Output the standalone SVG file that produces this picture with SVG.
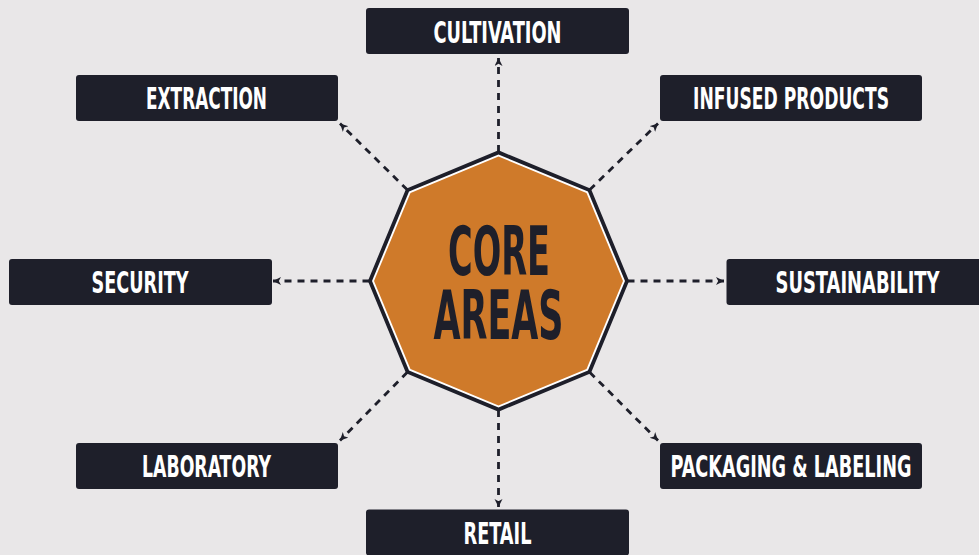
<svg xmlns="http://www.w3.org/2000/svg" width="979" height="555" viewBox="0 0 979 555">
<style>
.bg{fill:#e9e7e8}
.box{fill:#1e1f2a}
.lbl{fill:#ffffff;font-family:"Liberation Sans Narrow","DejaVu Sans Condensed","Liberation Sans",sans-serif;font-stretch:condensed;font-weight:bold;font-size:30px;text-anchor:middle}
.core{fill:#1e1f2a;font-family:"Liberation Sans Narrow","DejaVu Sans Condensed","Liberation Sans",sans-serif;font-stretch:condensed;font-weight:bold;font-size:68px;text-anchor:middle}
.conn{stroke:#1e1f2a;stroke-width:2.8;stroke-dasharray:7 6;fill:none;marker-end:url(#arr)}
</style>
<defs>
<marker id="arr" markerUnits="userSpaceOnUse" markerWidth="9" markerHeight="9" refX="8" refY="4" orient="auto">
<path d="M0,0 L8,4 L0,8 L2.2,4 Z" fill="#1e1f2a"/>
</marker>
</defs>
<rect class="bg" x="0" y="0" width="979" height="555"/>
<g id="connectors">
<line class="conn" x1="498.5" y1="152" x2="498.5" y2="58"/>
<line class="conn" x1="589.7" y1="189.8" x2="658" y2="123.5"/>
<line class="conn" x1="627.5" y1="281" x2="724" y2="281"/>
<line class="conn" x1="589.7" y1="372.2" x2="658" y2="440.5"/>
<line class="conn" x1="498.5" y1="410" x2="498.5" y2="507"/>
<line class="conn" x1="407.3" y1="372.2" x2="340" y2="440.5"/>
<line class="conn" x1="369.5" y1="281" x2="273" y2="281"/>
<line class="conn" x1="407.3" y1="189.8" x2="340" y2="123.5"/>
</g>
<g id="core">
<polygon points="498.5,152 589.72,189.78 627.5,281 589.72,372.22 498.5,410 407.28,372.22 369.5,281 407.28,189.78" fill="#1e1f2a" stroke="#1e1f2a" stroke-width="3" stroke-linejoin="round"/>
<polygon points="498.5,154.5 587.95,191.55 625,281 587.95,370.45 498.5,407.5 409.05,370.45 372,281 409.05,191.55" fill="#ffffff"/>
<polygon points="498.5,156.5 586.53,192.97 623,281 586.53,369.03 498.5,405.5 410.47,369.03 374,281 410.47,192.97" fill="#cf7a2a"/>
<text class="core" x="499" y="275" textLength="102" lengthAdjust="spacingAndGlyphs">CORE</text>
<text class="core" x="498.5" y="338.5" textLength="130" lengthAdjust="spacingAndGlyphs">AREAS</text>
</g>
<g id="cultivation">
<rect class="box" x="366" y="8" width="263" height="46" rx="3"/>
<text class="lbl" x="497.5" y="42.5" textLength="128" lengthAdjust="spacingAndGlyphs">CULTIVATION</text>
</g>
<g id="infused-products">
<rect class="box" x="660" y="75" width="262" height="46" rx="3"/>
<text class="lbl" x="791" y="109.3" textLength="196" lengthAdjust="spacingAndGlyphs">INFUSED PRODUCTS</text>
</g>
<g id="sustainability">
<rect class="box" x="726.5" y="259" width="263" height="46" rx="3"/>
<text class="lbl" x="857.5" y="293.3" textLength="164" lengthAdjust="spacingAndGlyphs">SUSTAINABILITY</text>
</g>
<g id="packaging-labeling">
<rect class="box" x="660" y="443" width="262" height="46" rx="3"/>
<text class="lbl" x="791" y="477.3" textLength="241" lengthAdjust="spacingAndGlyphs">PACKAGING &amp; LABELING</text>
</g>
<g id="retail">
<rect class="box" x="366" y="509.5" width="263" height="46" rx="3"/>
<text class="lbl" x="497.5" y="544" textLength="68" lengthAdjust="spacingAndGlyphs">RETAIL</text>
</g>
<g id="laboratory">
<rect class="box" x="76" y="443" width="262" height="46" rx="3"/>
<text class="lbl" x="206.5" y="477.3" textLength="129" lengthAdjust="spacingAndGlyphs">LABORATORY</text>
</g>
<g id="security">
<rect class="box" x="9" y="259" width="263" height="46" rx="3"/>
<text class="lbl" x="140" y="293.3" textLength="97" lengthAdjust="spacingAndGlyphs">SECURITY</text>
</g>
<g id="extraction">
<rect class="box" x="76" y="75" width="262" height="46" rx="3"/>
<text class="lbl" x="206.5" y="109" textLength="121" lengthAdjust="spacingAndGlyphs">EXTRACTION</text>
</g>
</svg>
